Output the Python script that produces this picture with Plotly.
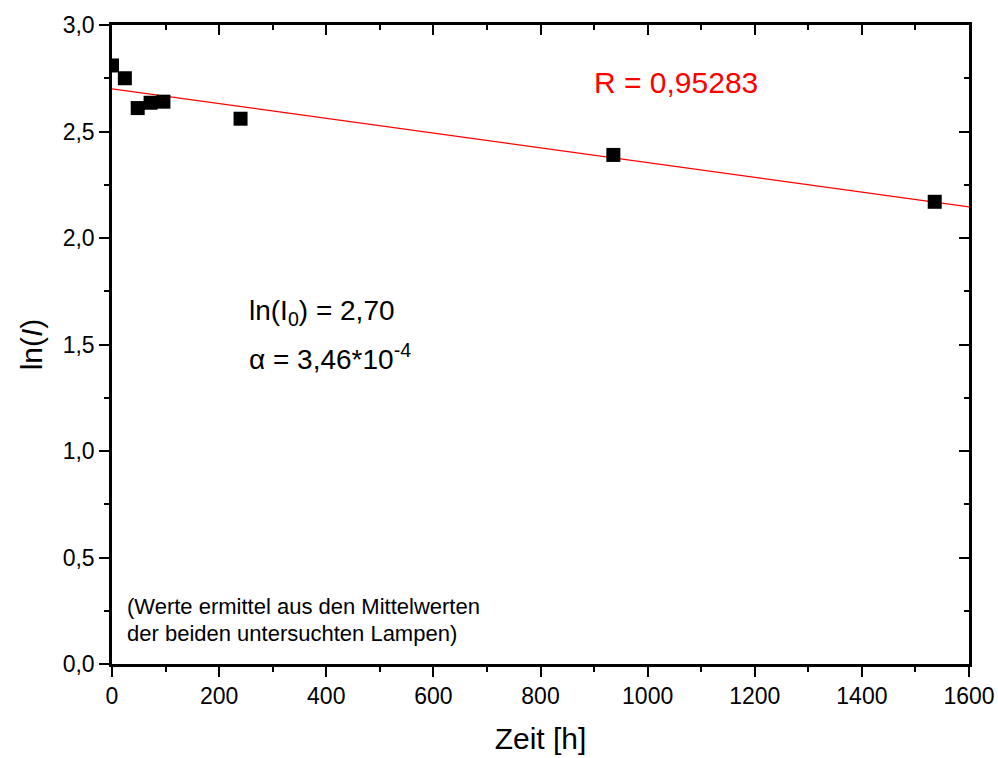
import numpy as np
import plotly.graph_objects as go

# Measured intensity (log) vs. burning time
zeit_h = [0, 24, 48, 72, 96, 240, 936, 1536]
ln_I = [2.81, 2.75, 2.61, 2.635, 2.64, 2.56, 2.39, 2.17]

# Linear fit parameters
ln_I0 = 2.70
alpha = 3.46e-4
r_value = "0,95283"

x_ticks = [0, 200, 400, 600, 800, 1000, 1200, 1400, 1600]
y_ticks = [0.0, 0.5, 1.0, 1.5, 2.0, 2.5, 3.0]

FONT = "Liberation Sans, Arial, Helvetica, sans-serif"

x_fit = np.array([x_ticks[0], x_ticks[-1]], dtype=float)
y_fit = ln_I0 - alpha * x_fit

fig = go.Figure()

fig.add_trace(go.Scatter(
    x=x_fit, y=y_fit, mode="lines",
    line=dict(color="#ff0000", width=1.2),
    showlegend=False, hoverinfo="skip",
))
fig.add_trace(go.Scatter(
    x=zeit_h, y=ln_I, mode="markers",
    marker=dict(symbol="square", size=14, color="black", line=dict(width=0)),
    showlegend=False,
))
# invisible trace so the mirrored top/right axes are drawn
fig.add_trace(go.Scatter(
    x=[x_ticks[0]], y=[y_ticks[0]], xaxis="x2", yaxis="y2",
    mode="markers", marker=dict(opacity=0), showlegend=False, hoverinfo="skip",
))

axis_common = dict(
    showgrid=False, zeroline=False, showline=True, automargin=False,
    linecolor="black", linewidth=2.5,
    tickcolor="black", tickwidth=2, ticklen=10,
)

fig.update_layout(
    width=998, height=758,
    margin=dict(l=112, r=29, t=25, b=94),
    paper_bgcolor="white", plot_bgcolor="white",
    separators=", ",
    font=dict(family=FONT, color="black", size=23),
    xaxis=dict(
        **axis_common, range=[x_ticks[0], x_ticks[-1]],
        tickmode="array", tickvals=x_ticks, tickformat="d",
        ticks="outside",
        minor=dict(ticks="outside", dtick=100, ticklen=5, tickwidth=2, tickcolor="black"),
        tickfont=dict(size=23),
        title=dict(text="Zeit [h]", font=dict(size=30), standoff=20),
    ),
    yaxis=dict(
        **axis_common, range=[y_ticks[0], y_ticks[-1]],
        tickmode="array", tickvals=y_ticks, tickformat=".1f",
        ticks="outside",
        minor=dict(ticks="outside", dtick=0.25, ticklen=5, tickwidth=2, tickcolor="black"),
        tickfont=dict(size=23),
        title=dict(text="ln(<i>I</i>)", font=dict(size=30), standoff=12),
    ),
    xaxis2=dict(
        **axis_common, range=[x_ticks[0], x_ticks[-1]], overlaying="x", side="top",
        tickmode="array", tickvals=x_ticks, ticks="inside", showticklabels=False,
        minor=dict(ticks="inside", dtick=100, ticklen=5, tickwidth=2, tickcolor="black"),
    ),
    yaxis2=dict(
        **axis_common, range=[y_ticks[0], y_ticks[-1]], overlaying="y", side="right",
        tickmode="array", tickvals=y_ticks, ticks="inside", showticklabels=False,
        minor=dict(ticks="inside", dtick=0.25, ticklen=5, tickwidth=2, tickcolor="black"),
    ),
    annotations=[
        dict(x=1053, y=2.728, xref="x", yref="y", showarrow=False,
             text=f"R = {r_value}", font=dict(size=30, color="#ff0000")),
        dict(x=252, y=1.648, xref="x", yref="y", showarrow=False, xanchor="left",
             text="ln(I<sub>0</sub>) = " + f"{ln_I0:.2f}".replace(".", ","),
             font=dict(size=28)),
        dict(x=252, y=1.44, xref="x", yref="y", showarrow=False, xanchor="left",
             text="\u03b1 = 3,46*10<sup>-4</sup>", font=dict(size=28)),
        dict(x=24, y=0.268, xref="x", yref="y", showarrow=False, xanchor="left",
             text="(Werte ermittel aus den Mittelwerten", font=dict(size=22)),
        dict(x=24, y=0.141, xref="x", yref="y", showarrow=False, xanchor="left",
             text="der beiden untersuchten Lampen)", font=dict(size=22)),
    ],
)

fig.write_html("out.html")
